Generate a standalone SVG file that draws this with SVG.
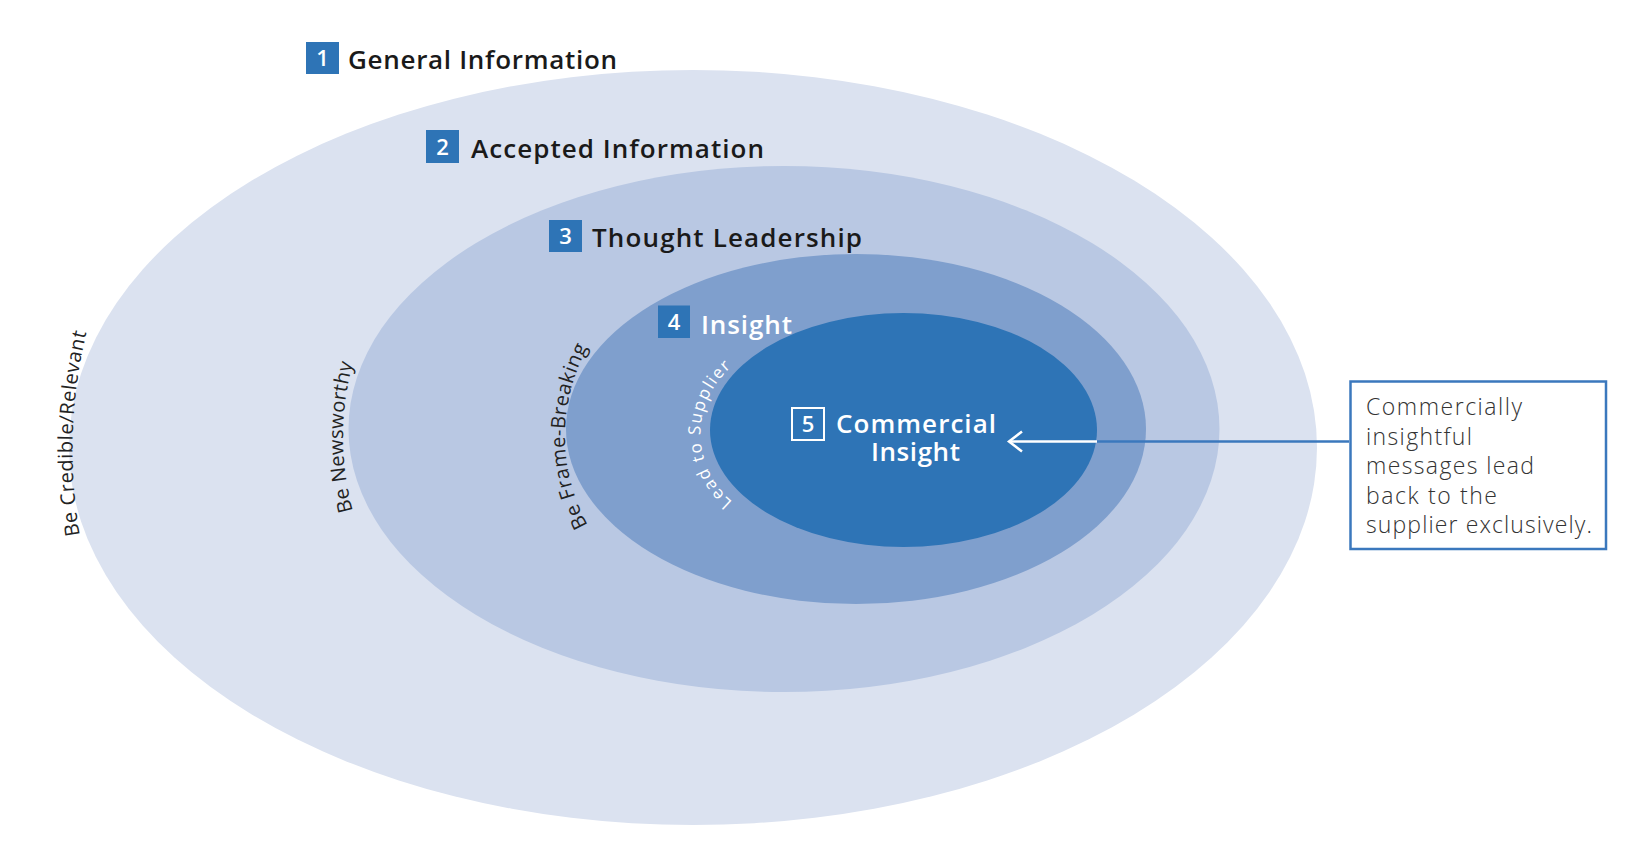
<svg xmlns="http://www.w3.org/2000/svg" width="1638" height="846" viewBox="0 0 1638 846">
  <style>
    .head { font-family: "Open Sans", "Liberation Sans", sans-serif; font-size: 26px; font-weight: 600; fill: #1a1a1a; }
    .headw { font-family: "Open Sans", "Liberation Sans", sans-serif; font-size: 26px; font-weight: 600; fill: #ffffff; }
    .num { font-family: "Open Sans", "Liberation Sans", sans-serif; font-size: 22px; font-weight: 600; fill: #ffffff; text-anchor: middle; }
    .badge { fill: #2e74b6; }
    .curve { font-family: "Open Sans", "Liberation Sans", sans-serif; font-size: 20px; fill: #222222; }
    .curvew { font-family: "Open Sans", "Liberation Sans", sans-serif; font-size: 17px; fill: #ffffff; }
    .note { font-family: "Open Sans", "Liberation Sans", sans-serif; font-size: 23px; font-weight: 300; fill: #333333; }
  </style>
  <defs>
    <path id="arc1" d="M572.5,950 A500,500 0 0 1 572.5,-50"/>
    <path id="arc2" d="M623,717 A280,280 0 0 1 623,157"/>
    <path id="arc3" d="M750,621 A185,185 0 0 1 750,251"/>
    <path id="arc4" d="M788.5,522 A88,88 0 0 1 788.5,346"/>
    <marker id="chev" viewBox="0 0 20 24" refX="17" refY="12" markerWidth="20" markerHeight="24" markerUnits="userSpaceOnUse" orient="auto">
      <polyline points="4,2 17,12 4,22" fill="none" stroke="#ffffff" stroke-width="2.5"/>
    </marker>
  </defs>

  <rect x="0" y="0" width="1638" height="846" fill="#ffffff"/>

  <g id="node1">
    <ellipse cx="693" cy="447.5" rx="624" ry="377.5" fill="#dbe2f0"/>
    <rect class="badge" x="306" y="42" width="33" height="32"/>
    <text class="num" x="322.5" y="66">1</text>
    <text class="head" x="348" y="69" textLength="269" lengthAdjust="spacing">General Information</text>
    <text class="curve" letter-spacing="0.5"><textPath href="#arc1" startOffset="802" text-anchor="middle">Be Credible/Relevant</textPath></text>
  </g>

  <g id="node2">
    <ellipse cx="784" cy="429" rx="435.5" ry="263" fill="#b9c8e3"/>
    <rect class="badge" x="426" y="130" width="33" height="33"/>
    <text class="num" x="442.5" y="154.5">2</text>
    <text class="head" x="471" y="157.5" textLength="293" lengthAdjust="spacing">Accepted Information</text>
    <text class="curve" letter-spacing="0.3"><textPath href="#arc2" startOffset="50%" text-anchor="middle">Be Newsworthy</textPath></text>
  </g>

  <g id="node3">
    <ellipse cx="856" cy="429" rx="290" ry="175" fill="#7f9fcd"/>
    <rect class="badge" x="549" y="220" width="33" height="32"/>
    <text class="num" x="565.5" y="244">3</text>
    <text class="head" x="592" y="246.5" textLength="270" lengthAdjust="spacing">Thought Leadership</text>
    <text class="curve" letter-spacing="0.5"><textPath href="#arc3" startOffset="50%" text-anchor="middle">Be Frame-Breaking</textPath></text>
  </g>

  <g id="node4">
    <ellipse cx="903.5" cy="430" rx="193.5" ry="117" fill="#2e74b6"/>
    <rect class="badge" x="658" y="305.5" width="32" height="32.5"/>
    <text class="num" x="674" y="330">4</text>
    <text class="headw" x="701" y="333.5" textLength="91" lengthAdjust="spacing">Insight</text>
    <text class="curvew" letter-spacing="1.6"><textPath href="#arc4" startOffset="50%" text-anchor="middle">Lead to Supplier</textPath></text>
  </g>

  <g id="node5">
    <rect x="792" y="408" width="32" height="32" fill="none" stroke="#ffffff" stroke-width="2"/>
    <text class="num" x="808" y="432">5</text>
    <text class="headw" x="916" y="433" text-anchor="middle" textLength="160" lengthAdjust="spacing">Commercial</text>
    <text class="headw" x="915.5" y="461" text-anchor="middle" textLength="89" lengthAdjust="spacing">Insight</text>
  </g>

  <g id="connectors">
    <line x1="1349" y1="441.5" x2="1096" y2="441.5" stroke="#3b78bd" stroke-width="2.5"/>
    <line x1="1097" y1="441.5" x2="1009" y2="441.5" stroke="#ffffff" stroke-width="2.5" marker-end="url(#chev)"/>
  </g>

  <g id="callout">
    <rect x="1350.5" y="381.5" width="255.5" height="167.5" fill="#ffffff" stroke="#3b78bd" stroke-width="2.5"/>
    <text class="note" x="1366" y="415" textLength="156" lengthAdjust="spacing">Commercially</text>
    <text class="note" x="1366" y="444.5" textLength="106" lengthAdjust="spacing">insightful</text>
    <text class="note" x="1366" y="474" textLength="168" lengthAdjust="spacing">messages lead</text>
    <text class="note" x="1366" y="503.5" textLength="131" lengthAdjust="spacing">back to the</text>
    <text class="note" x="1366" y="533" textLength="226" lengthAdjust="spacing">supplier exclusively.</text>
  </g>
</svg>
